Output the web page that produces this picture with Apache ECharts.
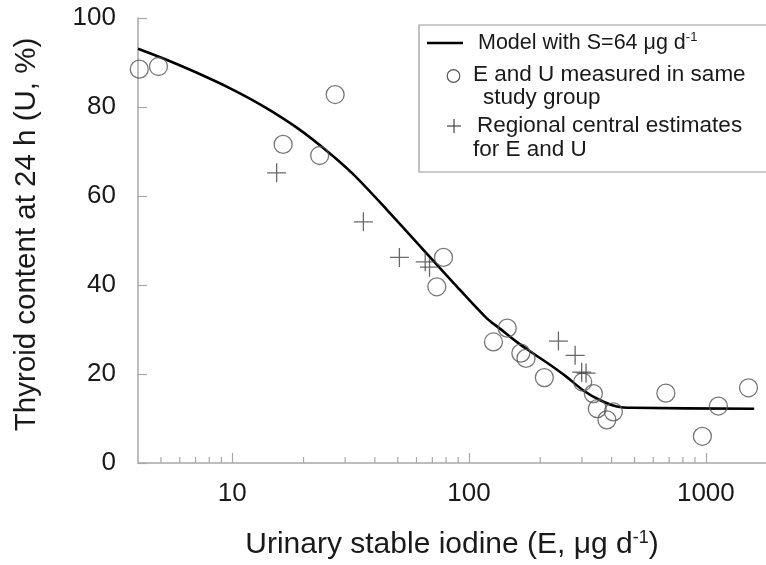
<!DOCTYPE html>
<html>
<head>
<meta charset="utf-8">
<script src="https://cdn.jsdelivr.net/npm/echarts@6/dist/echarts.min.js"></script>
<style>html,body{margin:0;padding:0;background:#fff;}#c{width:766px;height:565px;}</style>
</head>
<body>
<div id="c"></div>
<script>
// Model curve: E (µg/d), U (%)
var modelE = [4, 5.12, 7.09, 9.8, 13.5, 18.8, 25.4, 32.4, 45, 62.2, 85.9, 118.9, 135, 160, 187, 222, 259, 304, 358, 421, 494, 1600];
var modelU = [93.1, 90.9, 87.7, 84.2, 80.2, 75.3, 69.9, 64.9, 56.9, 48.7, 40.5, 32.5, 30.2, 27.1, 24.6, 21.9, 19.3, 16.3, 14.1, 12.7, 12.4, 12.2];

// E and U measured in same study group (circles)
var measuredE = [4.05, 4.88, 27.2, 16.4, 23.4, 78, 73.1, 126.8, 145, 165.5, 174, 208, 302, 335, 348, 407, 382, 678, 967, 1130, 1514];
var measuredU = [88.5, 89.1, 82.8, 71.6, 69.1, 46.2, 39.6, 27.2, 30.3, 24.7, 23.5, 19.2, 18.2, 15.6, 12.2, 11.5, 9.7, 15.7, 6.0, 12.8, 16.9];

// Regional central estimates for E and U (crosses)
var regionalE = [15.4, 35.8, 50.8, 65.3, 68.1, 238.5, 280.6, 299, 312];
var regionalU = [65.2, 54.2, 46.2, 45.2, 44.0, 27.4, 24.2, 20.4, 20.2];

// Axis ticks
var xMajorTicks = [10, 100, 1000];
var xMinorTicks = [5, 6, 7, 8, 9, 20, 30, 40, 50, 60, 70, 80, 90, 200, 300, 400, 500, 600, 700, 800, 900];
var yTicks = [0, 20, 40, 60, 80, 100];

function zip(a, b) { return a.map(function (v, i) { return [v, b[i]]; }); }

var FONT = '"Liberation Sans", Arial, sans-serif';
var AXIS_COLOR = '#a8a8a8';
var TEXT = '#1a1a1a';
var LEG = 22.5;

var chart = echarts.init(document.getElementById('c'), null, { renderer: 'canvas' });
chart.setOption({
  animation: false,
  backgroundColor: '#fff',
  grid: { left: 138, right: 0, top: 18, bottom: 102, containLabel: false },
  xAxis: {
    type: 'log',
    logBase: 10,
    min: 4,
    max: 1795,
    name: 'Urinary stable iodine (E, μg d{sup|-1})',
    nameLocation: 'middle',
    nameGap: 66,
    nameTextStyle: {
      fontFamily: FONT, fontSize: 30, color: TEXT,
      rich: { sup: { fontFamily: FONT, fontSize: 18, color: TEXT, verticalAlign: 'top', padding: [0, 0, 13, 0] } }
    },
    axisLine: { show: true, lineStyle: { color: AXIS_COLOR, width: 1.5 } },
    axisTick: { show: true, inside: true, length: 10, customValues: xMajorTicks, lineStyle: { color: AXIS_COLOR, width: 1.2 } },
    axisLabel: { show: true, customValues: xMajorTicks, margin: 18, fontFamily: FONT, fontSize: 26, color: TEXT,
      formatter: function (v) { return String(v); } },
    splitLine: { show: false },
    minorTick: { show: false },
    minorSplitLine: { show: false }
  },
  yAxis: {
    type: 'value',
    min: 0,
    max: 100,
    interval: 20,
    name: 'Thyroid content at 24 h (U, %)',
    nameLocation: 'middle',
    nameGap: 96,
    nameRotate: 90,
    nameTextStyle: { fontFamily: FONT, fontSize: 29.5, color: TEXT, padding: [0, 0, 0, 12] },
    axisLine: { show: true, lineStyle: { color: AXIS_COLOR, width: 1.5 } },
    axisTick: { show: true, inside: true, length: 9, lineStyle: { color: AXIS_COLOR, width: 1.2 } },
    axisLabel: { margin: 22, fontFamily: FONT, fontSize: 26, color: TEXT,
      customValues: yTicks },
    splitLine: { show: false }
  },
  series: [
    {
      name: 'minor ticks',
      type: 'custom',
      silent: true,
      clip: false,
      data: xMinorTicks.map(function (v) { return [v, 0]; }),
      renderItem: function (params, api) {
        var p = api.coord([api.value(0), 0]);
        return {
          type: 'line',
          shape: { x1: p[0], y1: p[1], x2: p[0], y2: p[1] - 6 },
          style: { stroke: AXIS_COLOR, lineWidth: 1.2 }
        };
      }
    },
    {
      name: 'Model with S=64 μg d-1',
      type: 'line',
      data: zip(modelE, modelU),
      showSymbol: false,
      smooth: 0.3,
      lineStyle: { color: '#000', width: 2.6, join: 'round' },
      z: 3
    },
    {
      name: 'E and U measured in same study group',
      type: 'scatter',
      data: zip(measuredE, measuredU),
      symbol: 'circle',
      symbolSize: 18,
      itemStyle: { color: 'rgba(0,0,0,0)', borderColor: '#555', borderWidth: 1.3 },
      z: 4
    },
    {
      name: 'Regional central estimates for E and U',
      type: 'scatter',
      data: zip(regionalE, regionalU),
      symbol: 'path://M0,10L20,10M10,0L10,20',
      symbolSize: 19,
      itemStyle: { color: 'none', borderColor: '#444', borderWidth: 1.3 },
      z: 4
    }
  ],
  graphic: [
    { type: 'rect', shape: { x: 419, y: 25, width: 360, height: 147 }, style: { fill: '#fff', stroke: '#9a9a9a', lineWidth: 1.2 }, z: 10 },
    { type: 'line', shape: { x1: 427, y1: 43, x2: 463, y2: 43 }, style: { stroke: '#000', lineWidth: 2.6 }, z: 11 },
    { type: 'text', x: 478, y: 43, z: 11, style: {
        text: 'Model with S=64 μg d{sup|-1}', fontFamily: FONT, fontSize: 21.5, fill: TEXT, verticalAlign: 'middle',
        rich: { sup: { fontFamily: FONT, fontSize: 13, fill: TEXT, padding: [0, 0, 11, 0] } } } },
    { type: 'circle', shape: { cx: 453.5, cy: 76, r: 6.3 }, style: { fill: 'none', stroke: '#555', lineWidth: 1.2 }, z: 11 },
    { type: 'text', x: 473, y: 75, z: 11, style: { text: 'E and U measured in same', fontFamily: FONT, fontSize: LEG, fill: TEXT, verticalAlign: 'middle' } },
    { type: 'text', x: 483, y: 98, z: 11, style: { text: 'study group', fontFamily: FONT, fontSize: LEG, fill: TEXT, verticalAlign: 'middle' } },
    { type: 'line', shape: { x1: 447, y1: 126, x2: 461, y2: 126 }, style: { stroke: '#444', lineWidth: 1.2 }, z: 11 },
    { type: 'line', shape: { x1: 454, y1: 119, x2: 454, y2: 133 }, style: { stroke: '#444', lineWidth: 1.2 }, z: 11 },
    { type: 'text', x: 477, y: 126, z: 11, style: { text: 'Regional central estimates', fontFamily: FONT, fontSize: LEG, fill: TEXT, verticalAlign: 'middle' } },
    { type: 'text', x: 473, y: 150, z: 11, style: { text: 'for E and U', fontFamily: FONT, fontSize: LEG, fill: TEXT, verticalAlign: 'middle' } }
  ]
});
</script>
</body>
</html>
